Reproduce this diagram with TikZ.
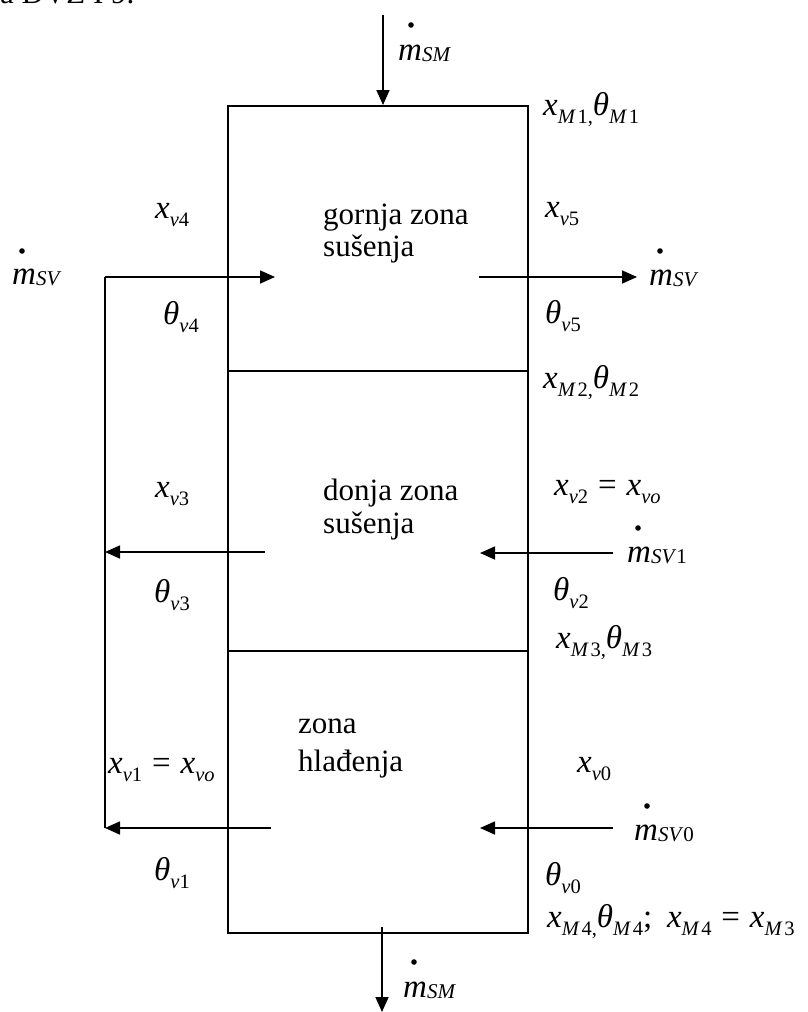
\documentclass[tikz,border=0pt]{standalone}
\usepackage{fontspec}
\setmainfont{Liberation Serif}
\usetikzlibrary{arrows.meta}
\newcommand\lo[1]{\raisebox{-0.25em}{\fontsize{20.5}{20}\selectfont #1}}
\newcommand\lm[1]{\raisebox{-0.06em}{\fontsize{21}{20}\selectfont #1}}
\newcommand\xx[1]{\textit{x}\lo{#1}}
\newcommand\tth[1]{\textit{θ}\lo{#1}}
\newcommand\mm[1]{\textit{m}\lm{#1}}
\newcommand\eqs{\hspace{0.3em}=\hspace{0.3em}}
\newcommand\Mi[1]{\textit{M}\hspace{0.08em}#1}
\tikzset{
  lbl/.style={anchor=base west, inner sep=0pt, font=\fontsize{33}{36}\selectfont},
  txt/.style={anchor=base west, inner sep=0pt, font=\fontsize{31}{36}\selectfont},
  flow/.style={line width=1.7pt, -{Triangle[length=15pt,width=13pt]}},
  wall/.style={line width=1.5pt},
  dotm/.style={fill=black}
}
\begin{document}
\begin{tikzpicture}[x=1pt,y=-1pt]
\useasboundingbox (0,0) rectangle (808,1012);
% cropped heading fragment
\node[txt] (head) at (0,3) {a DVZ I 9.};
% column
\node[wall, draw, minimum width=300pt, minimum height=827pt, anchor=north west, inner sep=0pt] (box) at (227,105) {};
\coordinate (d1l) at (227,371); \coordinate (d1r) at (527,371);
\coordinate (d2l) at (227,651); \coordinate (d2r) at (527,651);
\draw[wall] (d1l) -- (d1r);
\draw[wall] (d2l) -- (d2r);
% zone texts
\node[txt] (g1) at (323,224) {gornja zona};
\node[txt] (g2) at (323,256) {sušenja};
\node[txt] (d1) at (323,500) {donja zona};
\node[txt] (d2) at (323,533) {sušenja};
\node[txt] (h1) at (298,733) {zona};
\node[txt] (h2) at (298,771) {hlađenja};
% top and bottom material flows
\coordinate (tin) at (383,15); \coordinate (tbox) at (383,105);
\draw[flow] (tin) -- (tbox);
\coordinate (bbox) at (382,927); \coordinate (bout) at (382,1012);
\draw[flow] (bbox) -- (bout);
\node[lbl] (mSMt) at (398,60) {\mm{\textit{SM}}};
\fill[dotm] (411,25) circle (2.8);
\node[lbl] (mSMb) at (403,997) {\mm{\textit{SM}}};
\fill[dotm] (414,962) circle (2.8);
% air loop
\coordinate (lt) at (105,277); \coordinate (in4) at (275,277);
\coordinate (lm) at (105,552); \coordinate (s3) at (265,552);
\coordinate (lb) at (105,828); \coordinate (s1) at (271,828);
\draw[line width=1.7pt] (lb) -- (lt);
\draw[flow] (lt) -- (in4);
\draw[flow] (s3) -- (lm);
\draw[flow] (s1) -- (lb);
\coordinate (o5) at (479,277); \coordinate (e5) at (637,277);
\draw[flow] (o5) -- (e5);
\coordinate (s2) at (613,553); \coordinate (e2) at (480,553);
\draw[flow] (s2) -- (e2);
\coordinate (s0) at (613,828); \coordinate (e0) at (480,828);
\draw[flow] (s0) -- (e0);
% left labels
\node[lbl] (mSVl) at (12,284) {\mm{\textit{SV}}};
\fill[dotm] (22,251) circle (2.8);
\node[lbl] (xv4) at (155,218) {\xx{\textit{v}4}};
\node[lbl] (tv4) at (163,324) {\tth{\textit{v}4}};
\node[lbl] (xv3) at (155,497) {\xx{\textit{v}3}};
\node[lbl] (tv3) at (154,602) {\tth{\textit{v}3}};
\node[lbl] (xv1) at (108,773) {\xx{\textit{v}1}\eqs\xx{\textit{vo}}};
\node[lbl] (tv1) at (154,880) {\tth{\textit{v}1}};
% right labels
\node[lbl] (xM1) at (543,115) {\xx{\Mi{1},}\tth{\Mi{1}}};
\node[lbl] (xv5) at (545,217) {\xx{\textit{v}5}};
\node[lbl] (mSVr) at (649,285) {\mm{\textit{SV}}};
\fill[dotm] (660,251) circle (2.8);
\node[lbl] (tv5) at (545,323) {\tth{\textit{v}5}};
\node[lbl] (xM2) at (543,388) {\xx{\Mi{2},}\tth{\Mi{2}}};
\node[lbl] (xv2) at (554,495) {\xx{\textit{v}2}\eqs\xx{\textit{vo}}};
\node[lbl] (mSV1) at (627,562) {\mm{\textit{SV}1}};
\fill[dotm] (638,528) circle (2.8);
\node[lbl] (tv2) at (553,600) {\tth{\textit{v}2}};
\node[lbl] (xM3) at (556,648) {\xx{\Mi{3},}\tth{\Mi{3}}};
\node[lbl] (xv0) at (577,772) {\xx{\textit{v}0}};
\node[lbl] (mSV0) at (634,840) {\mm{\textit{SV}0}};
\fill[dotm] (647,806) circle (2.8);
\node[lbl] (tv0) at (545,885) {\tth{\textit{v}0}};
\node[lbl] (xM4) at (547,927) {\xx{\Mi{4},}\tth{\Mi{4}};\hspace{0.45em}\xx{\Mi{4}}\eqs\xx{\Mi{3}}};
\end{tikzpicture}
\end{document}
